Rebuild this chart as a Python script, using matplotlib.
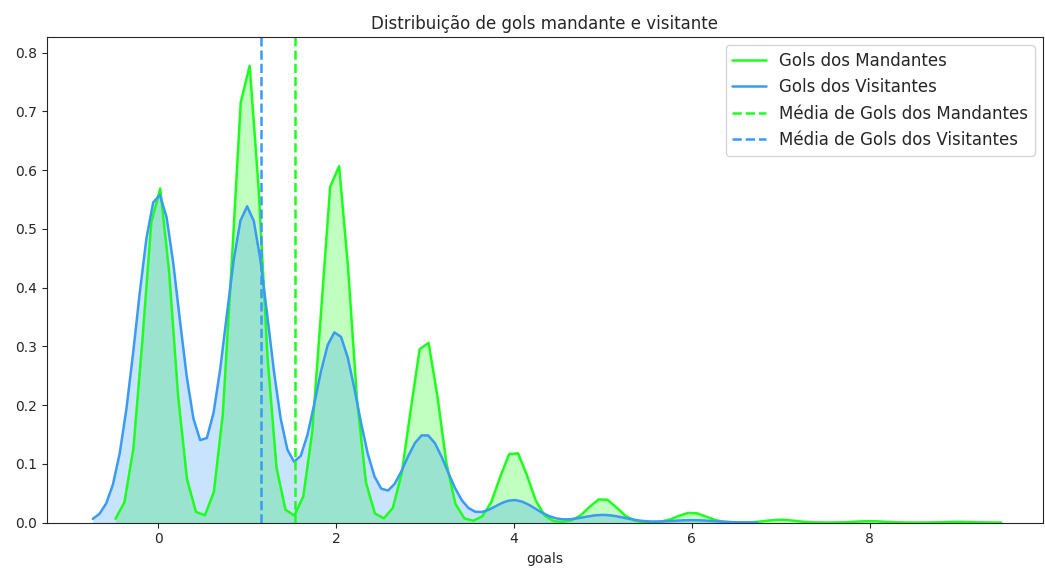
import matplotlib
matplotlib.use("Agg")
import matplotlib.pyplot as plt
import numpy as np
import seaborn as sns

# goals scored per match and how many matches ended with that many goals
home_goals = [0, 1, 2, 3, 4, 5, 6, 7, 8, 9]
home_counts = [476, 655, 515, 262, 102, 34, 14, 4, 2, 1]
away_goals = [0, 1, 2, 3, 4, 5, 6]
away_counts = [686, 660, 398, 184, 47, 16, 5]

HOME_BW = 0.16
AWAY_BW = 0.245
GREEN = "#1eff1e"
BLUE = "#3a9bf5"

home = np.repeat(home_goals, home_counts)
away = np.repeat(away_goals, away_counts)

sns.set_style("ticks")
plt.rcParams["font.family"] = ["DejaVu Sans"]

fig, ax = plt.subplots(figsize=(10.45, 5.68), dpi=100)
for data, bw, color, label in [(home, HOME_BW, GREEN, "Gols dos Mandantes"),
                               (away, AWAY_BW, BLUE, "Gols dos Visitantes")]:
    factor = bw / np.std(data)
    sns.kdeplot(x=data, bw_method=factor, gridsize=100, cut=3, fill=True,
                color=color, alpha=0.28, linewidth=0, ax=ax)
    sns.kdeplot(x=data, bw_method=factor, gridsize=100, cut=3,
                color=color, linewidth=1.8, label=label, ax=ax)

ax.axvline(home.mean(), color=GREEN, ls="--", lw=1.8,
           label="Média de Gols dos Mandantes")
ax.axvline(away.mean(), color=BLUE, ls="--", lw=1.8,
           label="Média de Gols dos Visitantes")

ax.set_ylim(0, 0.827)
ax.set_xlim(-1.25, 9.95)
ax.set_xticks([0, 2, 4, 6, 8])
ax.set_xlabel("goals")
ax.set_ylabel("")
ax.set_title("Distribuição de gols mandante e visitante", fontsize=12)
ax.legend(loc="upper right", fontsize=12)

fig.subplots_adjust(left=0.045, right=0.998, top=0.935, bottom=0.08)
fig.savefig("out.png", dpi=100)
